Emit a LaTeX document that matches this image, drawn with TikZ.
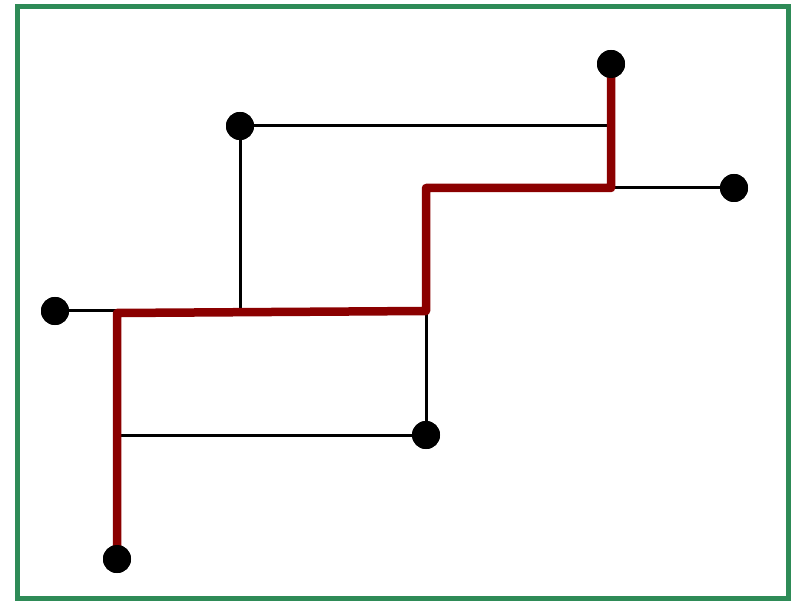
\documentclass[tikz,border=0pt]{standalone}
\begin{document}
\begin{tikzpicture}[x=1pt,y=-1pt]
  \definecolor{framegreen}{RGB}{46,139,87}
  \definecolor{routered}{RGB}{139,0,0}
  \tikzset{
    dot/.style={circle,fill=black,inner sep=0pt,minimum size=28pt},
    edge/.style={draw=black,line width=3pt},
    route/.style={draw=routered,line width=8.5pt,line join=round},
    frame/.style={draw=framegreen,line width=5pt}}
  \useasboundingbox (0,0) rectangle (797,601);
  \draw[frame] (17,7) rectangle (788,598);

  % terminal points
  \node[dot] (a) at (611,64) {};
  \node[dot] (b) at (240,126) {};
  \node[dot] (c) at (734,188) {};
  \node[dot] (d) at (55,311) {};
  \node[dot] (e) at (426,435) {};
  \node[dot] (f) at (117,559) {};

  % junctions
  \coordinate (j0) at (117,311);
  \coordinate (j1) at (117,313);
  \coordinate (j2) at (240,312.5);
  \coordinate (j3) at (426,311);
  \coordinate (j4) at (426,188);
  \coordinate (j5) at (611,188);
  \coordinate (j6) at (611,126);
  \coordinate (j7) at (117,435);

  % tree branches
  \draw[edge] (d.center) -- (j0);
  \draw[edge] (b.center) -- (j6);
  \draw[edge] (b.center) -- (j2);
  \draw[edge] (j5) -- (c.center);
  \draw[edge] (j3) -- (e.center);
  \draw[edge] (j7) -- (e.center);

  % highlighted path
  \draw[route] (f.center) -- (j1) -- (j3) -- (j4) -- (j5) -- (a.center);

  % dots above the lines
  \foreach \n in {a,b,c,d,e,f} \fill (\n) circle (14pt);
\end{tikzpicture}
\end{document}
